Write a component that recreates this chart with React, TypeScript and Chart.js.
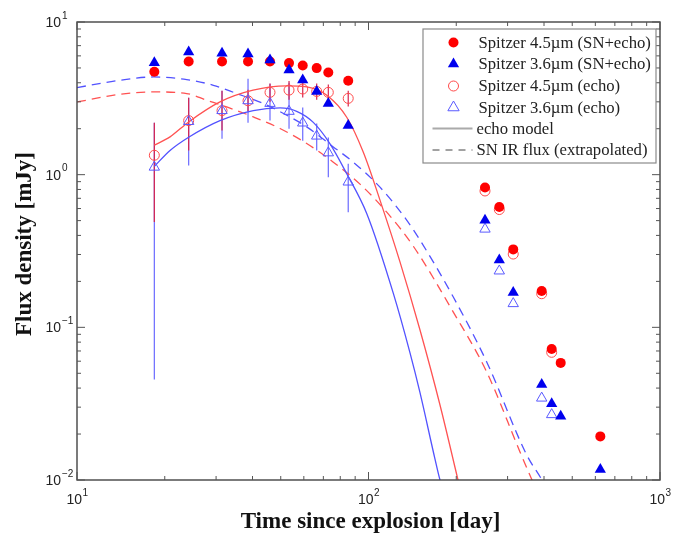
import { useEffect, useRef } from "react";
import { Chart, registerables } from "chart.js";

Chart.register(...registerables);

// Observation epochs (days since explosion)
const days = [18.42, 24.16, 31.44, 38.61, 45.93, 53.38, 59.48, 66.42, 72.8, 85.2, 251.0, 281.0, 313.7, 392.8, 425.0, 456.4, 624.1];

// Spitzer fluxes (mJy)
const ir45Total = [4.72, 5.51, 5.51, 5.51, 5.51, 5.38, 5.19, 4.99, 4.67, 4.12, 0.823, 0.614, 0.324, 0.173, 0.0722, 0.0585, 0.0193];
const ir36Total = [5.4, 6.37, 6.25, 6.16, 5.63, 4.84, 4.17, 3.51, 2.93, 2.1, 0.503, 0.276, 0.169, 0.0422, 0.0316, 0.0262, 0.0117];
const ir45Echo = [1.34, 2.26, 2.63, 3.05, 3.46, 3.58, 3.64, 3.51, 3.46, 3.16, 0.782, 0.591, 0.302, 0.166, 0.0686, null, null];
const ir36Echo = [1.12, 2.23, 2.63, 3.05, 2.93, 2.6, 2.18, 1.79, 1.39, 0.895, 0.44, 0.234, 0.143, 0.0344, 0.0268, null, null];

// Error bars of the echo fluxes (first ten epochs)
const ir45EchoLo = [0.489, 1.44, 1.95, 2.6, 3.0, 3.1, 3.2, 3.1, 3.05, 2.8];
const ir45EchoHi = [2.19, 3.19, 3.55, 3.6, 3.95, 4.1, 4.1, 3.95, 3.9, 3.55];
const ir36EchoLo = [0.0455, 1.15, 1.72, 2.19, 2.26, 2.0, 1.67, 1.44, 0.96, 0.568];
const ir36EchoHi = [2.19, 3.19, 3.55, 4.25, 3.94, 4.0, 2.75, 2.16, 1.75, 1.18];

// Echo model curves
const model45Days = [18.42, 20.85, 24.16, 30.94, 40.17, 52.42, 61.38, 71.91, 84.2, 95.99, 109.5, 128.3, 150.2, 175.9, 202.8, 222.9];
const model45Flux = [1.56, 1.768, 2.216, 2.995, 3.573, 3.814, 3.755, 3.314, 2.378, 1.403, 0.681, 0.2675, 0.096, 0.031, 0.01, 0.00471];
const model36Days = [18.42, 20.85, 24.16, 30.94, 40.26, 49.71, 56.71, 64.66, 73.79, 84.2, 98.6, 121.6, 138.8, 150.2, 169.1, 175.9, 184.5];
const model36Flux = [1.133, 1.44, 1.759, 2.26, 2.63, 2.735, 2.6, 2.2, 1.593, 1.015, 0.557, 0.1674, 0.068, 0.0373, 0.0137, 0.01, 0.0075];

// Extrapolated SN IR flux
const snir45Days = [10, 14.04, 18.27, 23.78, 27.86, 32.63, 40.26, 49.71, 61.38, 75.73, 93.5, 115.5, 142.4, 195.4, 254.4, 330.9, 363.9, 403.2];
const snir45Flux = [2.995, 3.364, 3.483, 3.4, 3.073, 2.778, 2.389, 2.006, 1.6, 1.207, 0.867, 0.568, 0.3404, 0.1259, 0.051, 0.01527, 0.01, 0.00657];
const snir36Days = [10, 14.04, 18.27, 23.78, 29.36, 35.31, 43.56, 52.42, 61.38, 75.73, 88.7, 109.5, 135.2, 150.2, 195.4, 254.4, 348.9, 393.7, 436.4];
const snir36Flux = [3.721, 4.154, 4.365, 4.198, 3.852, 3.4, 2.924, 2.452, 2.055, 1.52, 1.207, 0.828, 0.504, 0.3726, 0.1579, 0.0593, 0.0146, 0.01, 0.00687];

// Tick labels (powers of ten)
const xTickExps = [1, 2, 3];
const yTickExps = [1, 0, -1, -2];

const legendLabels = [
  "Spitzer 4.5\u00b5m (SN+echo)",
  "Spitzer 3.6\u00b5m (SN+echo)",
  "Spitzer 4.5\u00b5m (echo)",
  "Spitzer 3.6\u00b5m (echo)",
  "echo model",
  "SN IR flux (extrapolated)",
];
const xTitle = "Time since explosion [day]";
const yTitle = "Flux density [mJy]";

const RED = "#ff0000";
const BLUE = "#0000ee";
const RED_OPEN = "#ff4a4a";
const BLUE_OPEN = "#5a5aff";
const RED_LINE = "#ff5252";
const BLUE_LINE = "#5252ff";

const pts = (xs: number[], ys: (number | null)[]) =>
  xs.map((x, i) => ({ x, y: ys[i] })).filter((p) => p.y !== null) as { x: number; y: number }[];

function expText(e: number) {
  return e < 0 ? "\u2212" + Math.abs(e) : String(e);
}

function drawMarker(ctx: CanvasRenderingContext2D, kind: string, x: number, y: number) {
  ctx.save();
  ctx.setLineDash([]);
  if (kind === "cf" || kind === "co") {
    ctx.beginPath();
    ctx.arc(x, y, 5, 0, Math.PI * 2);
    if (kind === "cf") {
      ctx.fillStyle = RED;
      ctx.fill();
    } else {
      ctx.strokeStyle = RED_OPEN;
      ctx.lineWidth = 1;
      ctx.stroke();
    }
  } else if (kind === "tf" || kind === "to") {
    const r = 6.5;
    ctx.beginPath();
    for (let k = 0; k < 3; k++) {
      const a = (k * 2 * Math.PI) / 3;
      const px = x + Math.sin(a) * r;
      const py = y - Math.cos(a) * r;
      if (k === 0) ctx.moveTo(px, py);
      else ctx.lineTo(px, py);
    }
    ctx.closePath();
    if (kind === "tf") {
      ctx.fillStyle = BLUE;
      ctx.fill();
    } else {
      ctx.strokeStyle = BLUE_OPEN;
      ctx.lineWidth = 1;
      ctx.stroke();
    }
  } else if (kind === "line") {
    ctx.strokeStyle = "#aaaaaa";
    ctx.lineWidth = 2;
    ctx.beginPath();
    ctx.moveTo(x - 21, y);
    ctx.lineTo(x + 19, y);
    ctx.stroke();
  } else if (kind === "dash") {
    ctx.strokeStyle = "#444444";
    ctx.lineWidth = 1;
    ctx.setLineDash([7, 6]);
    ctx.beginPath();
    ctx.moveTo(x - 21, y);
    ctx.lineTo(x + 19, y);
    ctx.stroke();
  }
  ctx.restore();
}

const overlayPlugin = {
  id: "overlay",
  beforeDatasetsDraw(chart: any) {
    const { ctx, chartArea, scales } = chart;
    const xs = scales.x;
    const ys = scales.y;
    ctx.save();
    ctx.beginPath();
    ctx.rect(chartArea.left, chartArea.top, chartArea.right - chartArea.left, chartArea.bottom - chartArea.top);
    ctx.clip();
    ctx.lineWidth = 1.2;
    const bars = [
      { lo: ir36EchoLo, hi: ir36EchoHi, color: "#6a6aff" },
      { lo: ir45EchoLo, hi: ir45EchoHi, color: "#d8244c" },
    ];
    for (const b of bars) {
      ctx.strokeStyle = b.color;
      for (let i = 0; i < b.lo.length; i++) {
        const px = xs.getPixelForValue(days[i]);
        ctx.beginPath();
        ctx.moveTo(px, ys.getPixelForValue(b.lo[i]));
        ctx.lineTo(px, ys.getPixelForValue(b.hi[i]));
        ctx.stroke();
      }
    }
    ctx.restore();
  },
  afterDraw(chart: any) {
    const { ctx, chartArea, scales } = chart;
    const xs = scales.x;
    const ys = scales.y;
    const { left, right, top, bottom } = chartArea;
    ctx.save();
    // frame
    ctx.strokeStyle = "#444444";
    ctx.lineWidth = 1.4;
    ctx.strokeRect(left, top, right - left, bottom - top);
    // ticks
    ctx.strokeStyle = "#555555";
    ctx.lineWidth = 1;
    for (let n = 1; n <= 3; n++) {
      for (let m = 1; m <= 9; m++) {
        const v = m * Math.pow(10, n);
        if (v > 1000) break;
        const px = xs.getPixelForValue(v);
        const len = m === 1 ? 8 : 4;
        ctx.beginPath();
        ctx.moveTo(px, bottom);
        ctx.lineTo(px, bottom - len);
        ctx.moveTo(px, top);
        ctx.lineTo(px, top + len);
        ctx.stroke();
      }
    }
    for (let n = -2; n <= 1; n++) {
      for (let m = 1; m <= 9; m++) {
        const v = m * Math.pow(10, n);
        if (v > 10.0001) break;
        const py = ys.getPixelForValue(v);
        const len = m === 1 ? 8 : 4;
        ctx.beginPath();
        ctx.moveTo(left, py);
        ctx.lineTo(left + len, py);
        ctx.moveTo(right, py);
        ctx.lineTo(right - len, py);
        ctx.stroke();
      }
    }
    // tick labels
    ctx.fillStyle = "#222222";
    ctx.textBaseline = "middle";
    const baseFont = "14px 'Liberation Sans', Arial, sans-serif";
    const expFont = "10px 'Liberation Sans', Arial, sans-serif";
    for (const e of yTickExps) {
      const py = ys.getPixelForValue(Math.pow(10, e));
      ctx.font = baseFont;
      ctx.textAlign = "right";
      ctx.fillText("10", 61, py + 1);
      ctx.font = expFont;
      ctx.textAlign = "left";
      ctx.fillText(expText(e), 62, py - 6);
    }
    for (const e of xTickExps) {
      const px = xs.getPixelForValue(Math.pow(10, e));
      ctx.font = baseFont;
      const w1 = ctx.measureText("10").width;
      ctx.font = expFont;
      const w2 = ctx.measureText(expText(e)).width;
      const x0 = px - (w1 + w2) / 2;
      ctx.font = baseFont;
      ctx.textAlign = "left";
      ctx.fillText("10", x0, 500);
      ctx.font = expFont;
      ctx.fillText(expText(e), x0 + w1 + 0.5, 493);
    }
    // axis titles
    ctx.fillStyle = "#111111";
    ctx.font = "bold 23px 'Liberation Serif', 'Times New Roman', serif";
    ctx.textAlign = "center";
    ctx.textBaseline = "alphabetic";
    ctx.fillText(xTitle, (left + right) / 2 + 2, 528);
    ctx.save();
    ctx.translate(31, 244);
    ctx.rotate(-Math.PI / 2);
    ctx.fillText(yTitle, 0, 0);
    ctx.restore();
    // legend
    const lx = 423, ly = 29, lw = 233, lh = 134;
    ctx.fillStyle = "#ffffff";
    ctx.fillRect(lx, ly, lw, lh);
    ctx.strokeStyle = "#8a8a8a";
    ctx.lineWidth = 1.2;
    ctx.strokeRect(lx, ly, lw, lh);
    const kinds = ["cf", "tf", "co", "to", "line", "dash"];
    const rowsY = [42.5, 64, 86, 107.5, 128.5, 150];
    ctx.font = "16.7px 'Liberation Serif', 'Times New Roman', serif";
    ctx.textBaseline = "middle";
    ctx.textAlign = "left";
    for (let i = 0; i < legendLabels.length; i++) {
      drawMarker(ctx, kinds[i], 453.5, rowsY[i]);
      ctx.fillStyle = "#222222";
      ctx.fillText(legendLabels[i], i >= 4 ? 476.5 : 478.5, rowsY[i] + 1);
    }
    ctx.restore();
  },
};

export default function App() {
  const ref = useRef<HTMLCanvasElement>(null);
  useEffect(() => {
    document.body.style.margin = "0";
    const lineDs = (label: string, xs: number[], ys: number[], color: string, dash: number[], order: number) => ({
      type: "line" as const,
      label,
      data: pts(xs, ys),
      borderColor: color,
      borderWidth: 1.3,
      borderDash: dash,
      pointRadius: 0,
      fill: false,
      cubicInterpolationMode: "monotone" as const,
      order,
    });
    const chart = new Chart(ref.current!, {
      type: "scatter",
      data: {
        datasets: [
          {
            label: legendLabels[1],
            data: pts(days, ir36Total),
            pointStyle: "triangle",
            pointRadius: 6.5,
            backgroundColor: BLUE,
            borderColor: BLUE,
            borderWidth: 0,
            order: 0,
          },
          {
            label: legendLabels[0],
            data: pts(days, ir45Total),
            pointStyle: "circle",
            pointRadius: 5,
            backgroundColor: RED,
            borderColor: RED,
            borderWidth: 0,
            order: 1,
          },
          {
            label: legendLabels[3],
            data: pts(days, ir36Echo),
            pointStyle: "triangle",
            pointRadius: 6,
            backgroundColor: "rgba(0,0,0,0)",
            borderColor: BLUE_OPEN,
            borderWidth: 1,
            order: 2,
          },
          {
            label: legendLabels[2],
            data: pts(days, ir45Echo),
            pointStyle: "circle",
            pointRadius: 5,
            backgroundColor: "rgba(0,0,0,0)",
            borderColor: RED_OPEN,
            borderWidth: 1,
            order: 3,
          },
          lineDs("echo model 4.5", model45Days, model45Flux, RED_LINE, [], 10),
          lineDs("echo model 3.6", model36Days, model36Flux, BLUE_LINE, [], 11),
          lineDs("SN IR 4.5", snir45Days, snir45Flux, RED_LINE, [9, 6], 12),
          lineDs("SN IR 3.6", snir36Days, snir36Flux, BLUE_LINE, [9, 6], 13),
        ] as any,
      },
      options: {
        responsive: false,
        animation: false,
        layout: { padding: { top: 22, right: 28, left: 0, bottom: 0 } },
        plugins: { legend: { display: false }, tooltip: { enabled: false } },
        scales: {
          x: {
            type: "logarithmic",
            min: 10,
            max: 1000,
            ticks: { display: false },
            grid: { display: false },
            border: { display: false },
            afterFit: (s: any) => {
              s.height = 54;
            },
          },
          y: {
            type: "logarithmic",
            min: 0.01,
            max: 10,
            ticks: { display: false },
            grid: { display: false },
            border: { display: false },
            afterFit: (s: any) => {
              s.width = 77;
            },
          },
        },
      },
      plugins: [overlayPlugin],
    });
    return () => chart.destroy();
  }, []);
  return (
    <div style={{ width: 688, height: 534, position: "relative", background: "#fff" }}>
      <canvas ref={ref} width={688} height={534} style={{ width: 688, height: 534 }} />
    </div>
  );
}
